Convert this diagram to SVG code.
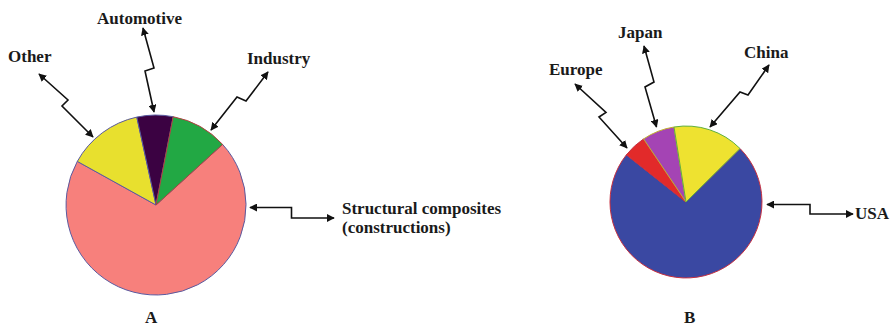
<svg xmlns="http://www.w3.org/2000/svg" width="891" height="328" viewBox="0 0 891 328">
<defs>
<style>
text{font-family:"Liberation Serif","Times New Roman",serif;font-weight:bold;font-size:17px;fill:#1a1a1a}
.c{fill:none;stroke:#111;stroke-width:1.6;marker-start:url(#ah);marker-end:url(#ah)}
.sa{stroke:#5a5aa0;stroke-width:1}
.sb{stroke:#c83040;stroke-width:1}
</style>
<marker id="ah" viewBox="0 0 10 10" refX="9" refY="5" markerWidth="5" markerHeight="5" orient="auto-start-reverse" markerUnits="strokeWidth">
<path d="M0,0 L10,5 L0,10 Z" fill="#111"/>
</marker>
</defs>
<rect width="891" height="328" fill="#fff"/>
<g id="pieA">
<path class="sa" d="M156,205 L222.6,144.4 A90,90 0 1 1 77.3,161.4 Z" fill="#f7807c"/>
<path class="sa" d="M156,205 L77.3,161.4 A90,90 0 0 1 136.8,117.1 Z" fill="#e8e02e"/>
<path class="sa" d="M156,205 L136.8,117.1 A90,90 0 0 1 173.2,116.7 Z" fill="#3b0242"/>
<path d="M156,205 L173.2,116.7 A90,90 0 0 1 222.6,144.4 Z" fill="#22a844" stroke="#b04040" stroke-width="1"/>
</g>
<g id="pieB">
<path class="sb" d="M686,202 L740,148.5 A76,76 0 1 1 626.4,154.8 Z" fill="#3a48a2"/>
<path class="sb" d="M686,202 L626.4,154.8 A76,76 0 0 1 643.6,138.9 Z" fill="#e22a2a"/>
<path d="M686,202 L643.6,138.9 A76,76 0 0 1 674,127 Z" fill="#a444b4" stroke="#c0b030" stroke-width="1"/>
<path d="M686,202 L674,127 A76,76 0 0 1 740,148.5 Z" fill="#eee230" stroke="#60b040" stroke-width="1"/>
</g>
<g id="connectors">
<polyline class="c" points="39,74 68,100 62,106 93,137"/>
<polyline class="c" points="143,28 154,68 145,71 154,112"/>
<polyline class="c" points="268,72 246,101 237,97 211,130"/>
<polyline class="c" points="250,207.5 291.5,207.5 291.5,218 334,218"/>
<polyline class="c" points="575,84 606,112.5 599,117 627,148"/>
<polyline class="c" points="644,46 654,82 645,87 656.5,127"/>
<polyline class="c" points="769,65 748,95 740,92 710,127"/>
<polyline class="c" points="767,204.5 810,204.5 810,214 853,214"/>
</g>
<g id="labelsA">
<text x="97" y="24">Automotive</text>
<text x="8" y="62">Other</text>
<text x="247" y="64">Industry</text>
<text x="342" y="214">Structural composites</text>
<text x="342" y="233">(constructions)</text>
<text x="145" y="323">A</text>
</g>
<g id="labelsB">
<text x="618" y="38">Japan</text>
<text x="549" y="75">Europe</text>
<text x="744" y="58">China</text>
<text x="855" y="219">USA</text>
<text x="684" y="323">B</text>
</g>
</svg>
